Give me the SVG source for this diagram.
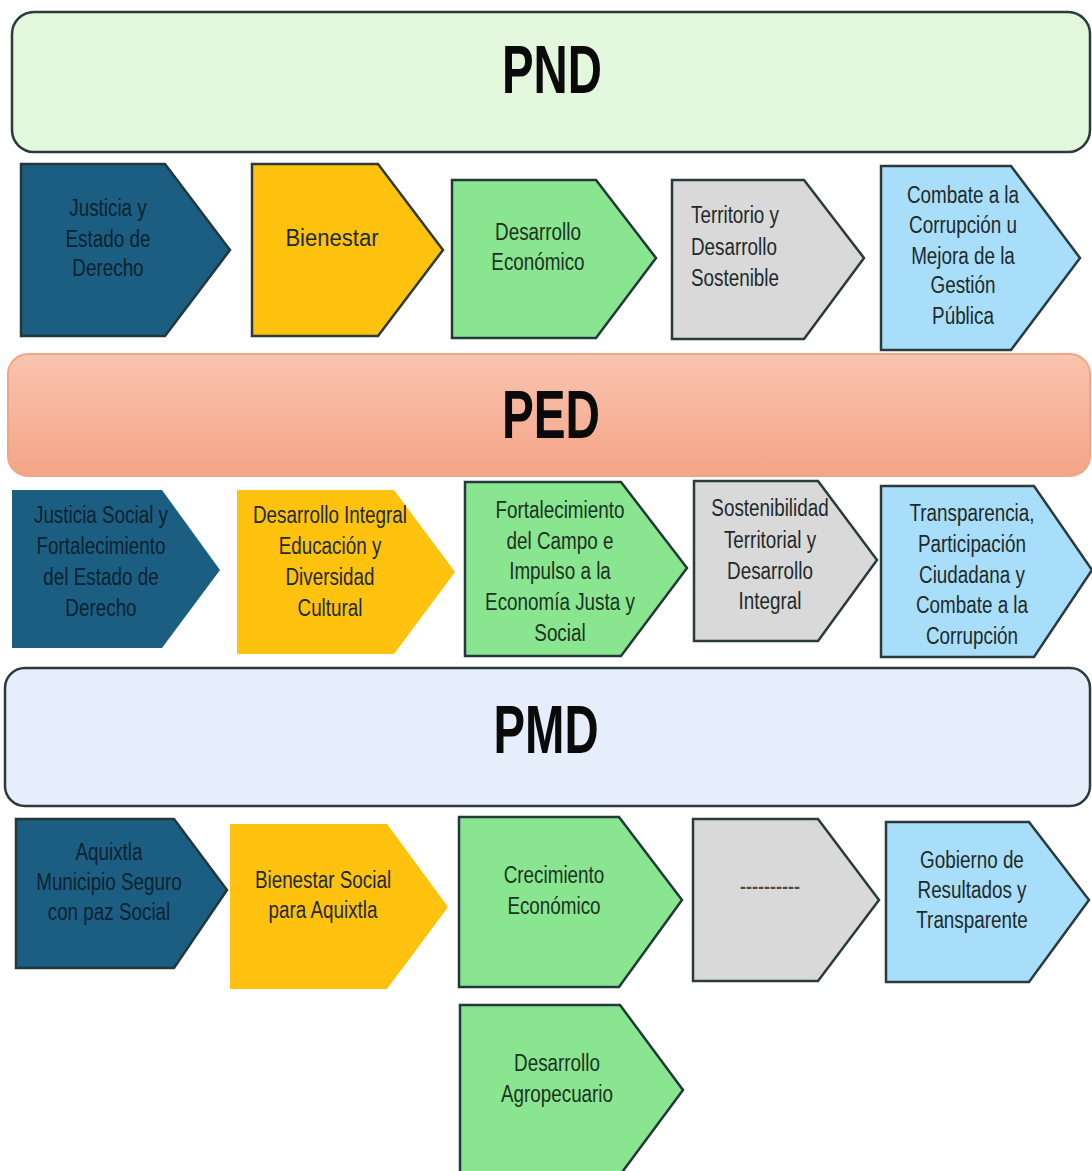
<svg xmlns="http://www.w3.org/2000/svg" width="1092" height="1171" viewBox="0 0 1092 1171">
<defs>
<linearGradient id="pedGrad" x1="0" y1="0" x2="0" y2="1">
<stop offset="0" stop-color="#f9c4ae"/>
<stop offset="1" stop-color="#f4a486"/>
</linearGradient>
<style>
.title{font-family:"Liberation Sans",Arial,sans-serif;font-weight:bold;font-size:68px;fill:#0a0a0a;text-anchor:middle}
.t{font-family:"Liberation Sans",Arial,sans-serif;font-size:23px;fill:#1e2a2a;text-anchor:middle}
.tl{text-anchor:start}
.dk{fill:#1b5e82;stroke:#233838;stroke-width:2.5}
.dkn{fill:#1b5e82}
.ye{fill:#ffc20e;stroke:#2b3a3a;stroke-width:2.5}
.yen{fill:#ffc20e}
.gr{fill:#8ae590;stroke:#233838;stroke-width:2.5}
.gy{fill:#d9d9d9;stroke:#2b3a3a;stroke-width:2.5}
.lb{fill:#a8defa;stroke:#2b3a3a;stroke-width:2.5}
.dt{fill:#0d2230}
.gt{fill:#1b3320}
</style>
</defs>
<rect width="1092" height="1171" fill="#ffffff"/>

<g id="pnd">
<rect x="12" y="12" width="1078" height="140" rx="22" fill="#e2f7dc" stroke="#2b3a3a" stroke-width="2.5"/>
<text class="title" x="552" y="93" textLength="100" lengthAdjust="spacingAndGlyphs">PND</text>
</g>

<g id="pnd-justicia">
<path class="dk" d="M21,164 H165 L230,250 L165,336 H21 Z"/>
<text class="t dt" transform="matrix(0.82 0 0 1 19.44 0)"><tspan x="108" y="216">Justicia y</tspan><tspan x="108" y="247">Estado de</tspan><tspan x="108" y="276">Derecho</tspan></text>
</g>
<g id="pnd-bienestar">
<path class="ye" d="M252,164 H378 L443,250 L378,336 H252 Z"/>
<text class="t" transform="matrix(0.96 0 0 1 13.28 0)" x="332" y="246">Bienestar</text>
</g>
<g id="pnd-desarrollo">
<path class="gr" d="M452,180 H596 L656,258 L596,338 H452 Z"/>
<text class="t gt" transform="matrix(0.82 0 0 1 96.84 0)"><tspan x="538" y="240">Desarrollo</tspan><tspan x="538" y="270">Económico</tspan></text>
</g>
<g id="pnd-territorio">
<path class="gy" d="M672,180 H804 L864,258 L804,339 H672 Z"/>
<text class="t tl" transform="matrix(0.82 0 0 1 124.38 0)"><tspan x="691" y="223">Territorio y</tspan><tspan x="691" y="255">Desarrollo</tspan><tspan x="691" y="286">Sostenible</tspan></text>
</g>
<g id="pnd-combate">
<path class="lb" d="M881,166 H1011 L1080,258 L1011,350 H881 Z"/>
<text class="t" transform="matrix(0.82 0 0 1 173.34 0)"><tspan x="963" y="203">Combate a la</tspan><tspan x="963" y="233">Corrupción u</tspan><tspan x="963" y="264">Mejora de la</tspan><tspan x="963" y="293">Gestión</tspan><tspan x="963" y="324">Pública</tspan></text>
</g>

<g id="ped">
<rect x="8" y="354" width="1082" height="122" rx="20" fill="url(#pedGrad)" stroke="#f2a584" stroke-width="2"/>
<text class="title" x="551" y="438" textLength="98" lengthAdjust="spacingAndGlyphs">PED</text>
</g>

<g id="ped-justicia">
<path class="dkn" d="M12,490 H162 L220,570 L162,648 H12 Z"/>
<text class="t dt" transform="matrix(0.82 0 0 1 18.18 0)"><tspan x="101" y="523">Justicia Social y</tspan><tspan x="101" y="554">Fortalecimiento</tspan><tspan x="101" y="585">del Estado de</tspan><tspan x="101" y="616">Derecho</tspan></text>
</g>
<g id="ped-desarrollo">
<path class="yen" d="M237,490 H394 L455,572 L394,654 H237 Z"/>
<text class="t" transform="matrix(0.82 0 0 1 59.4 0)"><tspan x="330" y="523">Desarrollo Integral</tspan><tspan x="330" y="554">Educación y</tspan><tspan x="330" y="585">Diversidad</tspan><tspan x="330" y="616">Cultural</tspan></text>
</g>
<g id="ped-campo">
<path class="gr" d="M465,482 H621 L687,568 L621,656 H465 Z"/>
<text class="t gt" transform="matrix(0.82 0 0 1 100.8 0)"><tspan x="560" y="518">Fortalecimiento</tspan><tspan x="560" y="549">del Campo e</tspan><tspan x="560" y="579">Impulso a la</tspan><tspan x="560" y="610">Economía Justa y</tspan><tspan x="560" y="641">Social</tspan></text>
</g>
<g id="ped-sostenibilidad">
<path class="gy" d="M694,481 H818 L877,560 L818,641 H694 Z"/>
<text class="t" transform="matrix(0.82 0 0 1 138.6 0)"><tspan x="770" y="516">Sostenibilidad</tspan><tspan x="770" y="548">Territorial y</tspan><tspan x="770" y="579">Desarrollo</tspan><tspan x="770" y="609">Integral</tspan></text>
</g>
<g id="ped-transparencia">
<path class="lb" d="M881,486 H1034 L1092,570 L1034,657 H881 Z"/>
<text class="t" transform="matrix(0.82 0 0 1 174.96 0)"><tspan x="972" y="521">Transparencia,</tspan><tspan x="972" y="552">Participación</tspan><tspan x="972" y="583">Ciudadana y</tspan><tspan x="972" y="613">Combate a la</tspan><tspan x="972" y="644">Corrupción</tspan></text>
</g>

<g id="pmd">
<rect x="5" y="668" width="1085" height="138" rx="20" fill="#e5eefa" stroke="#2b3a3a" stroke-width="2.5"/>
<text class="title" x="546" y="753" textLength="105" lengthAdjust="spacingAndGlyphs">PMD</text>
</g>

<g id="pmd-aquixtla">
<path class="dk" d="M16,819 H174 L227,890 L174,968 H16 Z"/>
<text class="t dt" transform="matrix(0.82 0 0 1 19.62 0)"><tspan x="109" y="860">Aquixtla</tspan><tspan x="109" y="890">Municipio Seguro</tspan><tspan x="109" y="920">con paz Social</tspan></text>
</g>
<g id="pmd-bienestar">
<path class="yen" d="M230,824 H387 L448,907 L387,989 H230 Z"/>
<text class="t" transform="matrix(0.82 0 0 1 58.14 0)"><tspan x="323" y="888">Bienestar Social</tspan><tspan x="323" y="918">para Aquixtla</tspan></text>
</g>
<g id="pmd-crecimiento">
<path class="gr" d="M459,817 H619 L682,900 L619,987 H459 Z"/>
<text class="t gt" transform="matrix(0.82 0 0 1 99.72 0)"><tspan x="554" y="883">Crecimiento</tspan><tspan x="554" y="914">Económico</tspan></text>
</g>
<g id="pmd-vacio">
<path class="gy" d="M693,819 H818 L879,900 L818,981 H693 Z"/>
<text class="t" x="770" y="893" style="font-size:18px;font-weight:bold;fill:#4a4a4a" textLength="60" lengthAdjust="spacingAndGlyphs">----------</text>
</g>
<g id="pmd-gobierno">
<path class="lb" d="M886,822 H1029 L1089,900 L1029,982 H886 Z"/>
<text class="t" transform="matrix(0.82 0 0 1 174.96 0)"><tspan x="972" y="868">Gobierno de</tspan><tspan x="972" y="898">Resultados y</tspan><tspan x="972" y="928">Transparente</tspan></text>
</g>

<g id="pmd-agropecuario">
<path class="gr" d="M460,1005 H620 L683,1090 L620,1175 H460 Z"/>
<text class="t gt" transform="matrix(0.82 0 0 1 100.26 0)"><tspan x="557" y="1071">Desarrollo</tspan><tspan x="557" y="1102">Agropecuario</tspan></text>
</g>

<g id="connectors"></g>
</svg>
